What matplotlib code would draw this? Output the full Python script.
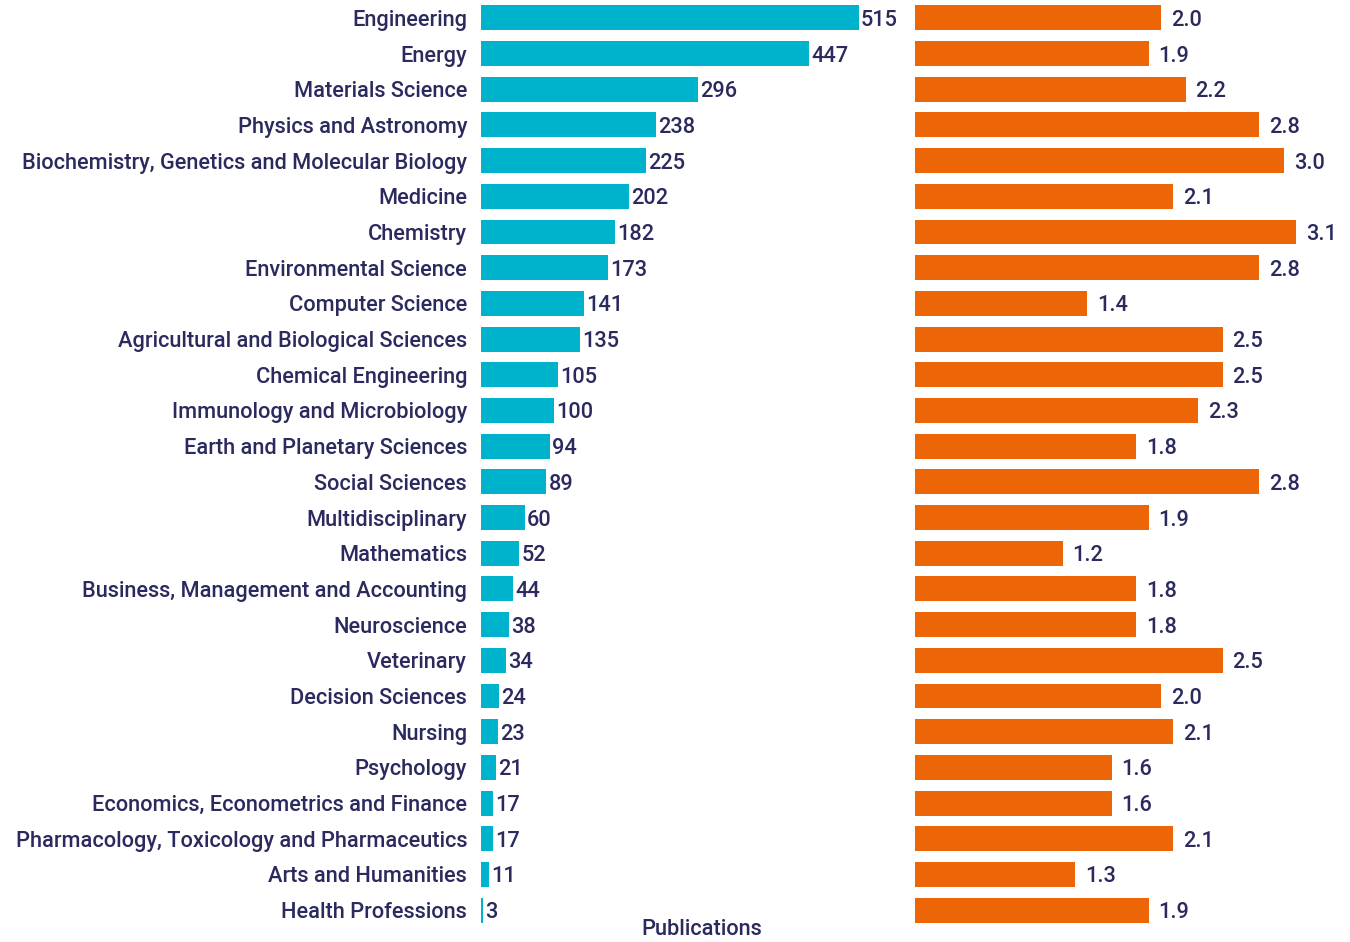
import matplotlib.pyplot as plt

categories = ["Engineering", "Energy", "Materials Science", "Physics and Astronomy",
              "Biochemistry, Genetics and Molecular Biology", "Medicine", "Chemistry",
              "Environmental Science", "Computer Science", "Agricultural and Biological Sciences",
              "Chemical Engineering", "Immunology and Microbiology", "Earth and Planetary Sciences",
              "Social Sciences", "Multidisciplinary", "Mathematics",
              "Business, Management and Accounting", "Neuroscience", "Veterinary",
              "Decision Sciences", "Nursing", "Psychology", "Economics, Econometrics and Finance",
              "Pharmacology, Toxicology and Pharmaceutics", "Arts and Humanities",
              "Health Professions"]
publications = [515, 447, 296, 238, 225, 202, 182, 173, 141, 135, 105, 100, 94, 89, 60, 52,
                44, 38, 34, 24, 23, 21, 17, 17, 11, 3]
citations = [2.0, 1.9, 2.2, 2.8, 3.0, 2.1, 3.1, 2.8, 1.4, 2.5, 2.5, 2.3, 1.8, 2.8, 1.9, 1.2,
             1.8, 1.8, 2.5, 2.0, 2.1, 1.6, 1.6, 2.1, 1.3, 1.9]

teal = '#00B3CC'
orange = '#EC6608'
navy = '#2B2A5E'
fs = 15.7

plt.rcParams['font.family'] = ['Roboto', 'DejaVu Sans']
plt.rcParams['font.weight'] = 'medium'

W, H = 1350, 942
fig = plt.figure(figsize=(W / 100, H / 100), dpi=100)
bottom = (H - 928) / H
height = 928 / H
ax1 = fig.add_axes([481 / W, bottom, (905 - 481) / W, height])
ax2 = fig.add_axes([915 / W, bottom, (1345 - 915) / W, height])

y = list(range(len(categories)))

ax1.barh(y, publications, height=0.7, color=teal)
for yi, v in zip(y, publications):
    ax1.text(v + 3, yi, str(v), va='center_baseline', ha='left', fontsize=fs, color=navy,
             fontweight='medium')
ax1.set_xlim(0, 578)
ax1.set_yticks(y)
ax1.set_yticklabels(categories, fontsize=fs, color=navy, fontweight='medium')
ax1.tick_params(axis='y', length=0, pad=10)
ax1.set_xticks([])
ax1.set_xlabel('Publications', fontsize=fs, color=navy, fontweight='medium')
ax1.xaxis.set_label_coords(0.521, 0.0095)

ax2.barh(y, citations, height=0.7, color=orange)
for yi, v in zip(y, citations):
    ax2.text(v + 0.08, yi, f'{v:.1f}', va='center_baseline', ha='left', fontsize=fs,
             color=navy, fontweight='medium')
ax2.set_xlim(0, 430 / 123)
ax2.set_yticks([])
ax2.set_xticks([])

for ax in (ax1, ax2):
    ax.set_ylim(len(categories) - 0.5, -0.5)
    for s in ax.spines.values():
        s.set_visible(False)

fig.savefig('out.png', dpi=100)
